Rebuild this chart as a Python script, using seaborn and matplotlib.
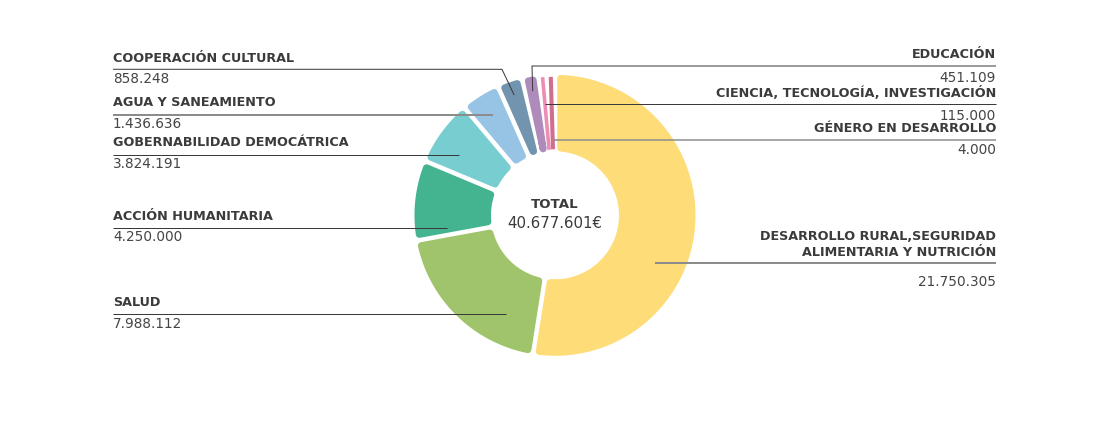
import numpy as np
import matplotlib
matplotlib.use("Agg")
import matplotlib.pyplot as plt
import seaborn as sns
from matplotlib.path import Path
from matplotlib.patches import PathPatch

# ---------------- data ----------------
categories = [
    "DESARROLLO RURAL,SEGURIDAD\nALIMENTARIA Y NUTRICIÓN",
    "SALUD",
    "ACCIÓN HUMANITARIA",
    "GOBERNABILIDAD DEMOCÁTRICA",
    "AGUA Y SANEAMIENTO",
    "COOPERACIÓN CULTURAL",
    "EDUCACIÓN",
    "CIENCIA, TECNOLOGÍA, INVESTIGACIÓN",
    "GÉNERO EN DESARROLLO",
]
amounts = [21750305, 7988112, 4250000, 3824191, 1436636, 858248, 451109, 115000, 4000]
# angular size of each slice as drawn in the chart (small ones are enlarged)
slice_degrees = [189.0, 70.6, 33.1, 27.2, 16.2, 10.3, 6.8, 3.3, 3.5]
colors = ["#FEDC78", "#A0C46C", "#43B390", "#78CDD1", "#97C4E5",
          "#7394AE", "#AE8BBB", "#EE8CB5", "#D06E8E"]
total_title = "TOTAL"
total_value = "40.677.601€"


def fmt(v):
    return f"{v:,}".replace(",", ".")


# ---------------- figure ----------------
sns.set_theme(style="white")
plt.rcParams["font.family"] = ["DejaVu Sans"]
W, H = 1110, 429
fig = plt.figure(figsize=(W / 100, H / 100), dpi=100)
ax = fig.add_axes([0, 0, 1, 1])
ax.set_xlim(0, W)
ax.set_ylim(H, 0)
ax.set_aspect("equal")
ax.axis("off")

CX, CY = 555.0, 215.3
R_OUT, R_IN = 140.5, 64.0
GAP, CORNER = 4.5, 3.5
PX = 72 / 100  # points per pixel

wedges, _ = ax.pie(slice_degrees, colors=colors, startangle=-90, counterclock=True,
                   center=(CX, CY), radius=R_OUT, wedgeprops=dict(width=R_OUT - R_IN))
ax.set_xlim(0, W)
ax.set_ylim(H, 0)


def rounded_slice(t1, t2, color):
    a1, a2 = np.radians(t1), np.radians(t2)
    span = a2 - a1
    c = min(CORNER, max(0.9, (R_OUT * span - GAP) / 2))
    ro, ri = R_OUT - c, R_IN + c
    d = GAP / 2 + c
    mid = (a1 + a2) / 2
    pads = []
    for rr in (ro, ri):
        p = np.arcsin(min(1.0, d / rr))
        if span > 2 * p:
            pads.append((a1 + p, a2 - p))
        else:
            pads.append((mid, mid))
    (o1, o2), (i1, i2) = pads
    ao = np.linspace(o1, o2, 80)
    ai = np.linspace(i2, i1, 40)
    xs = np.concatenate([CX + ro * np.cos(ao), CX + ri * np.cos(ai)])
    ys = np.concatenate([CY + ro * np.sin(ao), CY + ri * np.sin(ai)])
    verts = np.column_stack([xs, ys])
    verts = np.vstack([verts, verts[:1]])
    codes = [Path.MOVETO] + [Path.LINETO] * (len(verts) - 2) + [Path.CLOSEPOLY]
    patch = PathPatch(Path(verts, codes), facecolor=color, edgecolor=color,
                      linewidth=2 * c * PX, joinstyle="round", zorder=2)
    ax.add_patch(patch)
    return mid


mids = []
for w, col in zip(wedges, colors):
    w.set_visible(False)
    mids.append(rounded_slice(w.theta1, w.theta2, col))


def bis_point(i, rho):
    return CX + rho * np.cos(mids[i]), CY + rho * np.sin(mids[i])


def bis_x_at_y(i, y):
    return CX + (y - CY) / np.tan(mids[i])


LABEL_COL = "#3b3b3b"
NUM_COL = "#454545"
DARK = "#3a3a3a"
GREY = "#8c8c8c"
LFS, NFS = 9.2, 9.8
XL, XR = 113, 996

# (index, side, label_y, line_y, value_y, line color, line width, end)
specs = [
    (5, "L", 59, 69.3, 79, DARK, 1.0, ("elbow", 502, 127)),
    (4, "L", 103, 115, 123.5, GREY, 2.0, ("x", 493)),
    (3, "L", 143, 154.5, 164, DARK, 1.0, ("x", 459)),
    (2, "L", 216, 227.5, 237, DARK, 1.0, ("x", 447)),
    (1, "L", 303, 314, 324, DARK, 1.0, ("x", 506)),
    (6, "R", 55, 66, 78, DARK, 1.0, ("elbow", 532, 126)),
    (7, "R", 93, 104, 116.5, DARK, 1.0, ("bis",)),
    (8, "R", 129, 140, 150, GREY, 1.5, ("bis",)),
    (0, "R", 244.5, 263, 282, GREY, 2.0, ("x", 655)),
]

for i, side, ly, liney, vy, lc, lw, end in specs:
    x0 = XL if side == "L" else XR
    ha = "left" if side == "L" else "right"
    ax.text(x0, ly, categories[i], ha=ha, va="center", fontsize=LFS,
            fontweight="bold", color=LABEL_COL, linespacing=1.25, zorder=5)
    ax.text(x0, vy, fmt(amounts[i]), ha=ha, va="center", fontsize=NFS,
            color=NUM_COL, zorder=5)
    if end[0] == "x":
        xs, ys = [x0, end[1]], [liney, liney]
    elif end[0] == "bis":
        xs, ys = [x0, bis_x_at_y(i, liney)], [liney, liney]
    else:
        bx, by = bis_point(i, end[2])
        xs, ys = [x0, end[1], bx], [liney, liney, by]
    ax.plot(xs, ys, color=lc, lw=lw * PX, solid_capstyle="butt", zorder=4)

ax.text(CX, 205, total_title, ha="center", va="center", fontsize=9.6,
        fontweight="bold", color="#3b3b3b", zorder=5)
ax.text(CX, 223, total_value, ha="center", va="center", fontsize=10.8,
        color="#3b3b3b", zorder=5)

fig.savefig("out.png", dpi=100, facecolor="white")
